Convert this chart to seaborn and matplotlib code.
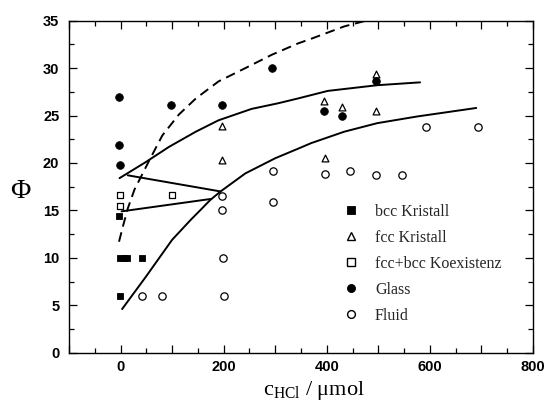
import matplotlib
matplotlib.use("Agg")
import matplotlib.pyplot as plt
import seaborn as sns
import numpy as np
import pandas as pd
from matplotlib.ticker import MultipleLocator, FuncFormatter
from matplotlib.lines import Line2D

# ---------------- data ----------------
bcc_x = [-3, -1, 6, 13, 42, -1]
bcc_y = [14.4, 10.0, 10.0, 10.0, 10.0, 6.0]

fcc_x = [196, 196, 394, 429, 495, 495, 396]
fcc_y = [23.9, 20.3, 26.5, 25.9, 29.4, 25.5, 20.5]

koex_x = [-2, -2, 99]
koex_y = [16.6, 15.5, 16.6]

glass_x = [-3, -3, -2, 98, 196, 293, 394, 429, 495]
glass_y = [27.0, 21.9, 19.8, 26.1, 26.1, 30.0, 25.5, 25.0, 28.6]

fluid_x = [42, 80, 201, 198, 197, 197, 296, 296, 396, 445, 496, 546, 593, 694]
fluid_y = [6.0, 6.0, 6.0, 10.0, 15.0, 16.5, 19.2, 15.9, 18.8, 19.2, 18.7, 18.7, 23.8, 23.8]

# boundary lines
dash_x = [-3, 4.5, 14, 27, 56, 81, 113, 146, 190, 242, 293, 344, 370, 434, 476]
dash_y = [11.7, 13.3, 15.2, 17.2, 20.3, 22.9, 25.1, 26.8, 28.6, 30.0, 31.4, 32.6, 33.1, 34.4, 35.0]

upper_x = [-2, 49, 94, 146, 190, 254, 306, 344, 402, 498, 581]
upper_y = [18.4, 20.1, 21.7, 23.3, 24.5, 25.7, 26.3, 26.8, 27.6, 28.2, 28.5]

lower_x = [3, 49, 100, 136, 156, 174, 194, 242, 300, 344, 370, 434, 498, 575, 690]
lower_y = [4.6, 8.0, 11.9, 14.0, 15.1, 16.1, 17.0, 18.9, 20.5, 21.5, 22.1, 23.3, 24.2, 24.9, 25.8]

tie1_x = [14, 194]
tie1_y = [18.7, 17.0]

tie2_x = [2, 174]
tie2_y = [14.9, 16.2]

labels = ["bcc Kristall", "fcc Kristall", "fcc+bcc Koexistenz", "Glass", "Fluid"]

# ---------------- style ----------------
sns.set_theme(style="ticks")
plt.rcParams["font.family"] = ["Liberation Sans", "DejaVu Sans"]
plt.rcParams["mathtext.fontset"] = "custom"
plt.rcParams["mathtext.rm"] = "Liberation Serif"
plt.rcParams["mathtext.it"] = "Liberation Serif:italic"

fig = plt.figure(figsize=(5.5, 4.05), dpi=100)
ax = fig.add_axes([69 / 550, 1 - 352.7 / 405, 464 / 550, 332 / 405])

lw = 1.4
for xs, ys, ls in [(dash_x, dash_y, (0, (5.0, 3.0))), (upper_x, upper_y, "-"),
                   (lower_x, lower_y, "-"), (tie1_x, tie1_y, "-"), (tie2_x, tie2_y, "-")]:
    sns.lineplot(x=xs, y=ys, sort=False, estimator=None, color="black",
                 linewidth=lw, linestyle=ls, ax=ax, legend=False)

sns.scatterplot(x=bcc_x, y=bcc_y, marker="s", s=24, color="black",
                edgecolor="black", linewidth=0.6, ax=ax, zorder=3)
sns.scatterplot(x=fcc_x, y=fcc_y, marker="^", s=24, color="white",
                edgecolor="black", linewidth=0.9, ax=ax, zorder=3)
sns.scatterplot(x=koex_x, y=koex_y, marker="s", s=22, color="white",
                edgecolor="black", linewidth=0.9, ax=ax, zorder=3)
sns.scatterplot(x=glass_x, y=glass_y, marker="o", s=30, color="black",
                edgecolor="black", linewidth=0.6, ax=ax, zorder=3)
sns.scatterplot(x=fluid_x, y=fluid_y, marker="o", s=28, color="white",
                edgecolor="black", linewidth=0.9, ax=ax, zorder=3)

ax.set_xlim(-100, 800)
ax.set_ylim(0, 35)

ax.xaxis.set_major_locator(MultipleLocator(100))
ax.xaxis.set_minor_locator(MultipleLocator(50))
ax.yaxis.set_major_locator(MultipleLocator(5))
ax.yaxis.set_minor_locator(MultipleLocator(2.5))
ax.xaxis.set_major_formatter(FuncFormatter(
    lambda v, p: f"{int(round(v))}" if (round(v) % 200 == 0) else ""))
ax.yaxis.set_major_formatter(FuncFormatter(lambda v, p: f"{int(round(v))}"))

ax.tick_params(which="both", direction="in", top=True, right=True,
               color="black", width=0.9)
ax.tick_params(which="major", length=6)
ax.tick_params(which="minor", length=3.5)
ax.tick_params(axis="x", which="major", pad=5)
ax.tick_params(axis="y", which="major", pad=7)
for lab in ax.get_xticklabels() + ax.get_yticklabels():
    lab.set_fontweight("bold")
    lab.set_fontsize(10.5)
    lab.set_color("black")
for sp in ax.spines.values():
    sp.set_visible(True)
    sp.set_color("black")
    sp.set_linewidth(1.0)

ax.set_xlabel(r"$\mathrm{c_{HCl}}$ / μmol", family=["Liberation Serif", "DejaVu Serif"],
              fontsize=16, color="black")
ax.xaxis.set_label_coords((314 - 69) / 464, -0.078)
ax.set_ylabel("Φ", family=["Liberation Serif", "DejaVu Serif"], fontsize=20,
              rotation=0, color="black", ha="center", va="center")
ax.yaxis.set_label_coords((20 - 69) / 464, (352.7 - 191) / 332)

handles = [
    Line2D([], [], ls="none", marker="s", ms=5.4, mfc="black", mec="black", mew=0.6),
    Line2D([], [], ls="none", marker="^", ms=5.4, mfc="white", mec="black", mew=1.0),
    Line2D([], [], ls="none", marker="s", ms=5.2, mfc="white", mec="black", mew=1.0),
    Line2D([], [], ls="none", marker="o", ms=5.8, mfc="black", mec="black", mew=0.6),
    Line2D([], [], ls="none", marker="o", ms=5.6, mfc="white", mec="black", mew=1.0),
]
ax.legend(handles, labels, loc="upper left",
          bbox_to_anchor=((335 - 69) / 464, (352.7 - 196) / 332),
          frameon=False, borderpad=0, handlelength=1.0, handletextpad=1.0,
          labelspacing=0.62, prop={"family": "Liberation Serif", "size": 11.5})

fig.savefig("out.png", dpi=100)
